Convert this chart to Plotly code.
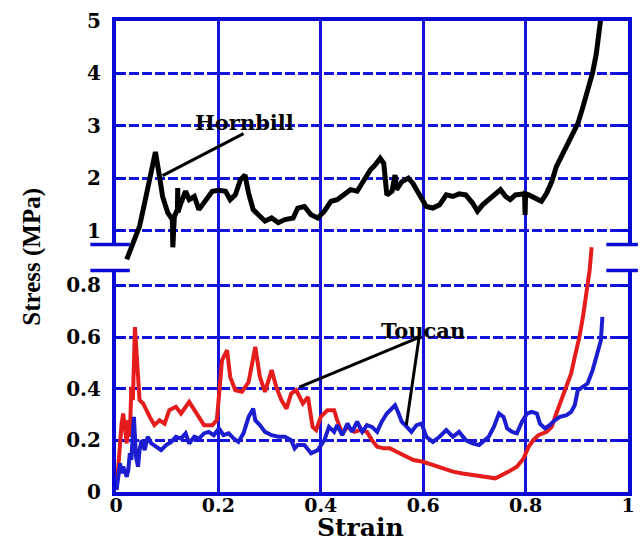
import plotly.graph_objects as go

# ---- data -------------------------------------------------------------
HORNBILL_STRAIN = [0.021, 0.033, 0.046, 0.056, 0.066, 0.077, 0.085, 0.091, 0.101, 0.108,
                   0.110, 0.111, 0.112, 0.114, 0.120, 0.1205, 0.121, 0.127, 0.136, 0.143,
                   0.153, 0.162, 0.172, 0.181, 0.188, 0.201, 0.214, 0.223, 0.233, 0.243,
                   0.252, 0.259, 0.268, 0.278, 0.291, 0.304, 0.317, 0.330, 0.346, 0.355,
                   0.368, 0.381, 0.394, 0.407, 0.420, 0.432, 0.445, 0.458, 0.471, 0.484,
                   0.497, 0.506, 0.516, 0.523, 0.526, 0.529, 0.539, 0.545, 0.548, 0.558,
                   0.571, 0.580, 0.593, 0.606, 0.619, 0.632, 0.645, 0.658, 0.670, 0.683,
                   0.696, 0.706, 0.716, 0.728, 0.741, 0.751, 0.761, 0.770, 0.780, 0.793,
                   0.798, 0.799, 0.800, 0.806, 0.819, 0.831, 0.841, 0.851, 0.860, 0.870,
                   0.883, 0.892, 0.902, 0.912, 0.921, 0.931, 0.938, 0.942, 0.946, 0.950]
HORNBILL_STRESS = [0.45, 0.77, 1.08, 1.53, 1.97, 2.50, 2.03, 1.65, 1.34, 1.21,
                   1.21, 0.68, 1.25, 1.27, 1.40, 1.81, 1.35, 1.53, 1.75, 1.59,
                   1.65, 1.40, 1.53, 1.62, 1.75, 1.77, 1.75, 1.59, 1.68, 1.97,
                   2.06, 1.71, 1.40, 1.30, 1.18, 1.24, 1.15, 1.21, 1.24, 1.43,
                   1.46, 1.30, 1.24, 1.37, 1.56, 1.59, 1.68, 1.78, 1.75, 1.97,
                   2.16, 2.25, 2.38, 2.28, 1.90, 1.68, 1.75, 2.06, 1.78, 1.93,
                   2.00, 1.90, 1.68, 1.46, 1.43, 1.49, 1.68, 1.65, 1.70, 1.68,
                   1.53, 1.37, 1.49, 1.59, 1.68, 1.78, 1.65, 1.59, 1.68, 1.71,
                   1.70, 1.30, 1.70, 1.68, 1.62, 1.56, 1.71, 1.93, 2.22, 2.41,
                   2.63, 2.85, 3.04, 3.36, 3.67, 4.02, 4.37, 4.75, 5.00, 5.30]

TOUCAN_RED_STRAIN = [0.001, 0.004, 0.008, 0.011, 0.014, 0.017, 0.021, 0.024, 0.027, 0.030,
                     0.033, 0.037, 0.040, 0.043, 0.046, 0.053, 0.059, 0.066, 0.075, 0.085,
                     0.095, 0.104, 0.117, 0.127, 0.143, 0.153, 0.162, 0.172, 0.188, 0.197,
                     0.207, 0.217, 0.223, 0.233, 0.246, 0.259, 0.272, 0.281, 0.291, 0.304,
                     0.313, 0.323, 0.333, 0.342, 0.352, 0.362, 0.365, 0.375, 0.384, 0.391,
                     0.400, 0.413, 0.426, 0.432, 0.442, 0.452, 0.465, 0.477, 0.490, 0.500,
                     0.510, 0.523, 0.535, 0.548, 0.561, 0.581, 0.600, 0.619, 0.638, 0.658,
                     0.677, 0.696, 0.716, 0.741, 0.767, 0.783, 0.796, 0.806, 0.815, 0.825,
                     0.841, 0.851, 0.860, 0.870, 0.880, 0.889, 0.896, 0.905, 0.912, 0.918,
                     0.925, 0.929]
TOUCAN_RED_STRESS = [0.008, 0.098, 0.188, 0.265, 0.304, 0.240, 0.188, 0.278, 0.214, 0.407,
                     0.356, 0.639, 0.549, 0.446, 0.356, 0.343, 0.317, 0.291, 0.259, 0.278,
                     0.265, 0.317, 0.330, 0.304, 0.349, 0.317, 0.291, 0.259, 0.259, 0.278,
                     0.510, 0.549, 0.446, 0.394, 0.388, 0.426, 0.562, 0.446, 0.388, 0.472,
                     0.407, 0.356, 0.323, 0.381, 0.394, 0.356, 0.343, 0.368, 0.252, 0.240,
                     0.291, 0.317, 0.317, 0.278, 0.227, 0.252, 0.233, 0.240, 0.233, 0.201,
                     0.175, 0.169, 0.169, 0.156, 0.143, 0.124, 0.117, 0.104, 0.092, 0.079,
                     0.072, 0.066, 0.059, 0.053, 0.079, 0.098, 0.130, 0.175, 0.201, 0.220,
                     0.233, 0.252, 0.304, 0.356, 0.407, 0.459, 0.523, 0.600, 0.678, 0.768,
                     0.858, 0.948]

TOUCAN_BLUE_STRAIN = [0.001, 0.004, 0.008, 0.011, 0.014, 0.021, 0.024, 0.027, 0.030, 0.035,
                      0.039, 0.043, 0.046, 0.050, 0.056, 0.062, 0.069, 0.079, 0.088, 0.098,
                      0.108, 0.117, 0.127, 0.136, 0.143, 0.153, 0.162, 0.172, 0.181, 0.191,
                      0.201, 0.210, 0.220, 0.230, 0.239, 0.249, 0.259, 0.268, 0.272, 0.281,
                      0.291, 0.304, 0.317, 0.330, 0.342, 0.349, 0.355, 0.368, 0.381, 0.394,
                      0.407, 0.416, 0.426, 0.432, 0.442, 0.452, 0.461, 0.471, 0.481, 0.490,
                      0.500, 0.510, 0.519, 0.529, 0.539, 0.545, 0.552, 0.558, 0.568, 0.577,
                      0.587, 0.597, 0.606, 0.619, 0.632, 0.645, 0.658, 0.670, 0.683, 0.696,
                      0.709, 0.720, 0.728, 0.738, 0.748, 0.757, 0.764, 0.774, 0.783, 0.793,
                      0.803, 0.812, 0.822, 0.828, 0.838, 0.847, 0.857, 0.867, 0.880, 0.889,
                      0.896, 0.902, 0.912, 0.921, 0.931, 0.941, 0.947, 0.950]
TOUCAN_BLUE_STRESS = [0.008, 0.046, 0.111, 0.072, 0.098, 0.059, 0.085, 0.150, 0.124, 0.291,
                      0.137, 0.098, 0.162, 0.201, 0.162, 0.214, 0.188, 0.175, 0.162, 0.182,
                      0.194, 0.214, 0.207, 0.227, 0.188, 0.214, 0.207, 0.227, 0.233, 0.220,
                      0.246, 0.220, 0.227, 0.207, 0.194, 0.227, 0.291, 0.323, 0.278, 0.259,
                      0.233, 0.220, 0.214, 0.214, 0.201, 0.169, 0.182, 0.182, 0.150, 0.162,
                      0.201, 0.252, 0.233, 0.259, 0.220, 0.265, 0.233, 0.272, 0.233, 0.259,
                      0.252, 0.233, 0.272, 0.304, 0.323, 0.336, 0.304, 0.272, 0.252, 0.233,
                      0.259, 0.265, 0.214, 0.194, 0.214, 0.240, 0.214, 0.233, 0.201, 0.188,
                      0.182, 0.201, 0.214, 0.252, 0.304, 0.291, 0.246, 0.233, 0.227, 0.272,
                      0.304, 0.310, 0.304, 0.265, 0.246, 0.259, 0.278, 0.291, 0.298, 0.310,
                      0.336, 0.394, 0.407, 0.420, 0.472, 0.549, 0.587, 0.678]

X_TICKS = [0, 0.2, 0.4, 0.6, 0.8, 1.0]
X_TICK_TEXT = ["0", "0.2", "0.4", "0.6", "0.8", "1"]
LOW_TICKS = [0, 0.2, 0.4, 0.6, 0.8]
LOW_TICK_TEXT = ["0", "0.2", "0.4", "0.6", "0.8"]
HIGH_TICKS = [1, 2, 3, 4, 5]
HIGH_TICK_TEXT = ["1", "2", "3", "4", "5"]

# ---- geometry of the broken stress axis --------------------------------
W, H = 644, 544
ML, MR, MT, MB = 116, 9, 20, 52
PLOT_W = W - ML - MR
PLOT_H = H - MT - MB
PX_PER_MPA_HIGH = 52.5      # upper panel scale
PX_PER_MPA_LOW = 258.75     # lower panel scale
LOW_TOP_PX = 270            # top of the lower panel (from page top)
HIGH_BOTTOM_PX = 244        # bottom of the upper panel

low_dom_top = (H - MB - LOW_TOP_PX) / PLOT_H
high_dom_bot = (H - MB - HIGH_BOTTOM_PX) / PLOT_H
low_range_top = (H - MB - LOW_TOP_PX) / PX_PER_MPA_LOW
high_range_bot = 5 - (HIGH_BOTTOM_PX - MT) / PX_PER_MPA_HIGH
full_high_bot = 5 - PLOT_H / PX_PER_MPA_HIGH
full_low_top = PLOT_H / PX_PER_MPA_LOW

AX_BLUE = "#0a0ad6"
GRID_BLUE = "#1414dc"
SERIF_WIDE = "DejaVu Serif"
SERIF = "Liberation Serif"

fig = go.Figure()

# empty traces so the two framed panels are laid out
fig.add_trace(go.Scatter(x=[], y=[], xaxis="x", yaxis="y", showlegend=False, hoverinfo="skip"))
fig.add_trace(go.Scatter(x=[], y=[], xaxis="x2", yaxis="y2", showlegend=False, hoverinfo="skip"))

fig.add_trace(go.Scatter(x=HORNBILL_STRAIN, y=HORNBILL_STRESS, mode="lines",
                         line=dict(color="black", width=5), xaxis="x3", yaxis="y3",
                         name="Hornbill", showlegend=False))
fig.add_trace(go.Scatter(x=TOUCAN_RED_STRAIN, y=TOUCAN_RED_STRESS, mode="lines",
                         line=dict(color="#e41c1c", width=4), xaxis="x4", yaxis="y4",
                         name="Toucan", showlegend=False))
fig.add_trace(go.Scatter(x=TOUCAN_BLUE_STRAIN, y=TOUCAN_BLUE_STRESS, mode="lines",
                         line=dict(color="#1c1cd0", width=4), xaxis="x4", yaxis="y4",
                         name="Toucan", showlegend=False))

tickfont = dict(family=SERIF_WIDE, size=20, color="black", weight="bold")
xtickfont = dict(family=SERIF_WIDE, size=19, color="black", weight="bold")
common_y = dict(showline=True, linecolor=AX_BLUE, linewidth=4, mirror="ticks",
                ticks="inside", ticklen=9, tickwidth=3, tickcolor=AX_BLUE,
                showgrid=True, gridcolor=GRID_BLUE, gridwidth=2.5, griddash="10px,3px",
                zeroline=False, tickfont=tickfont, ticklabelstandoff=7)

fig.update_layout(
    width=W, height=H,
    margin=dict(l=ML, r=MR, t=MT, b=MB),
    paper_bgcolor="white", plot_bgcolor="rgba(0,0,0,0)",
    showlegend=False,
    # lower panel (Toucan scale)
    xaxis=dict(domain=[0, 1], anchor="y", range=[0, 1], tickvals=X_TICKS, ticktext=X_TICK_TEXT,
               showline=True, linecolor=AX_BLUE, linewidth=4, mirror=False,
               ticks="inside", ticklen=9, tickwidth=3, tickcolor=AX_BLUE,
               showgrid=False, zeroline=False, tickfont=xtickfont, ticklabelstandoff=-7),
    yaxis=dict(domain=[0, low_dom_top], anchor="x", range=[0, low_range_top],
               tickvals=LOW_TICKS, ticktext=LOW_TICK_TEXT, **common_y),
    # upper panel (Hornbill scale)
    xaxis2=dict(domain=[0, 1], anchor="y2", side="top", range=[0, 1], tickvals=X_TICKS,
                showticklabels=False, showline=True, linecolor=AX_BLUE, linewidth=4,
                mirror=False, ticks="inside", ticklen=9, tickwidth=3, tickcolor=AX_BLUE,
                showgrid=False, zeroline=False),
    yaxis2=dict(domain=[high_dom_bot, 1], anchor="x2", range=[high_range_bot, 5],
                tickvals=HIGH_TICKS, ticktext=HIGH_TICK_TEXT, **common_y),
    # full-height drawing axes so curves can cross the break
    xaxis3=dict(domain=[0, 1], anchor="y3", range=[0, 1], tickvals=[0.2, 0.4, 0.6, 0.8],
                showticklabels=False, showline=False, ticks="", showgrid=True,
                gridcolor=GRID_BLUE, gridwidth=2.5, zeroline=False),
    yaxis3=dict(domain=[0, 1], anchor="x3", range=[full_high_bot, 5], visible=False),
    xaxis4=dict(domain=[0, 1], anchor="y4", range=[0, 1], visible=False),
    yaxis4=dict(domain=[0, 1], anchor="x4", range=[0, full_low_top], visible=False),
)

# break marks on the stress axis
for yb in (high_dom_bot, low_dom_top):
    for x0, x1 in ((-26 / PLOT_W, 14 / PLOT_W), (1 - 22 / PLOT_W, 1 + 10 / PLOT_W)):
        fig.add_shape(type="line", xref="paper", yref="paper", x0=x0, x1=x1, y0=yb, y1=yb,
                      line=dict(color=AX_BLUE, width=3.5))

# leader lines for the curve labels
fig.add_shape(type="line", xref="x3", yref="y3", x0=0.249, y0=2.85, x1=0.091, y1=2.05,
              line=dict(color="black", width=3))
fig.add_shape(type="line", xref="x4", yref="y4", x0=0.592, y0=0.599, x1=0.358, y1=0.406,
              line=dict(color="black", width=3))
fig.add_shape(type="line", xref="x4", yref="y4", x0=0.592, y0=0.599, x1=0.567, y1=0.259,
              line=dict(color="black", width=3))

labfont = dict(family=SERIF_WIDE, size=21, color="black", weight="bold")
fig.add_annotation(text="Hornbill", xref="x3", yref="y3", x=0.251, y=3.06,
                   xanchor="center", yanchor="middle", showarrow=False, font=labfont)
fig.add_annotation(text="Toucan", xref="x4", yref="y4", x=0.599, y=0.626,
                   xanchor="center", yanchor="middle", showarrow=False, font=labfont)

fig.add_annotation(text="Strain", xref="paper", yref="paper", x=(364 - ML) / PLOT_W,
                   y=-(528 - (H - MB)) / PLOT_H, xanchor="center", yanchor="middle",
                   showarrow=False,
                   font=dict(family=SERIF_WIDE, size=25, color="black", weight="bold"))
fig.add_annotation(text="Stress (MPa)", xref="paper", yref="paper", x=-(ML - 30) / PLOT_W,
                   y=0.5, xanchor="center", yanchor="middle", textangle=-90, showarrow=False,
                   font=dict(family=SERIF, size=25, color="black", weight="bold"))

fig.write_html("out.html")
